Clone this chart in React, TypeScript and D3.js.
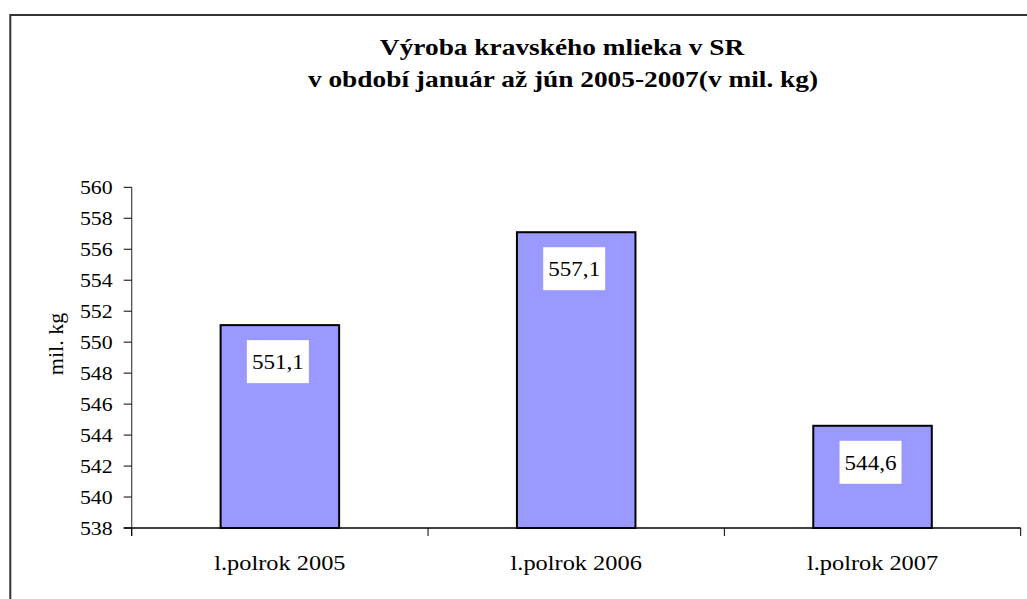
import React from 'react';
import * as d3 from 'd3';

// chart data
const categories = ['l.polrok 2005', 'l.polrok 2006', 'l.polrok 2007'];
const values = [551.1, 557.1, 544.6];
const valueLabels = ['551,1', '557,1', '544,6'];
const yTicks = [538, 540, 542, 544, 546, 548, 550, 552, 554, 556, 558, 560];
const titleLines = ['Výroba kravského mlieka v SR', 'v období január až jún 2005-2007(v mil. kg)'];
const yAxisTitle = 'mil. kg';

const W = 1027;
const H = 599;
const FONT = 'Liberation Serif';

const App = () => {
  const plot = { left: 131.7, right: 1020.7, top: 187.3, bottom: 528 };

  const x = d3.scaleBand<string>()
    .domain(categories)
    .range([plot.left, plot.right])
    .paddingInner(0.6)
    .paddingOuter(0.3);

  const y = d3.scaleLinear()
    .domain([538, 560])
    .range([plot.bottom, plot.top]);

  const step = x.step();
  // category separators on the x axis
  const sepX = d3.range(categories.length + 1).map(i => plot.left + i * step);

  // the source picture is stretched sideways, so text gets a horizontal scale
  const txt = (tx: number, ty: number, s: string, size: number, sx: number, anchor: string, bold = false, key?: any) => (
    <text
      key={key}
      transform={`translate(${tx},${ty}) scale(${sx},1)`}
      textAnchor={anchor}
      style={{ fontFamily: FONT, fontSize: size, fontWeight: bold ? 'bold' : 'normal' }}
      fill="#000"
    >{s}</text>
  );

  return (
    <svg width={W} height={H} style={{ position: 'absolute', left: 0, top: 0, background: '#fff' }}>
      {/* chart frame, cut off at right and bottom */}
      <rect x={10.3} y={15} width={1100} height={700} fill="#fff" stroke="#333" strokeWidth={2} />

      {/* title */}
      {txt(562, 55, titleLines[0], 23, 1.19, 'middle', true)}
      {txt(563, 87, titleLines[1], 23, 1.19, 'middle', true)}

      {/* bars */}
      {values.map((v, i) => (
        <rect
          key={'b' + i}
          x={x(categories[i])}
          y={y(v)}
          width={x.bandwidth()}
          height={plot.bottom - y(v)}
          fill="#9999FF"
          stroke="#000"
          strokeWidth={2}
        />
      ))}

      {/* y axis */}
      <line x1={plot.left} x2={plot.left} y1={plot.top} y2={plot.bottom + 8} stroke="#444" strokeWidth={1.2} />
      {yTicks.map(t => (
        <g key={'t' + t}>
          <line x1={plot.left - 8} x2={plot.left} y1={y(t)} y2={y(t)} stroke="#000" strokeWidth={1} />
          {txt(plot.left - 19, y(t) + 6.5, String(t), 19, 1.15, 'end')}
        </g>
      ))}

      {/* x axis */}
      <line x1={plot.left - 8} x2={plot.right} y1={plot.bottom} y2={plot.bottom} stroke="#000" strokeWidth={1.5} />
      {sepX.map((sx, i) => (
        <line key={'s' + i} x1={sx} x2={sx} y1={plot.bottom} y2={plot.bottom + 8} stroke="#000" strokeWidth={1} />
      ))}
      {categories.map((c, i) => txt((x(c) as number) + x.bandwidth() / 2, 570, c, 21, 1.16, 'middle', false, 'c' + i))}

      {/* value labels */}
      {values.map((v, i) => {
        const cx = (x(categories[i]) as number) + x.bandwidth() / 2 - 2;
        const top = y(v) + 15;
        return (
          <g key={'l' + i}>
            <rect x={cx - 31} y={top} width={62} height={43} fill="#fff" />
            {txt(cx, top + 29, valueLabels[i], 21, 1.1, 'middle')}
          </g>
        );
      })}

      {/* y axis title */}
      <text
        transform="translate(63,344) rotate(-90) scale(1.1,1)"
        textAnchor="middle"
        style={{ fontFamily: FONT, fontSize: 20 }}
        fill="#000"
      >{yAxisTitle}</text>
    </svg>
  );
};

export default App;
